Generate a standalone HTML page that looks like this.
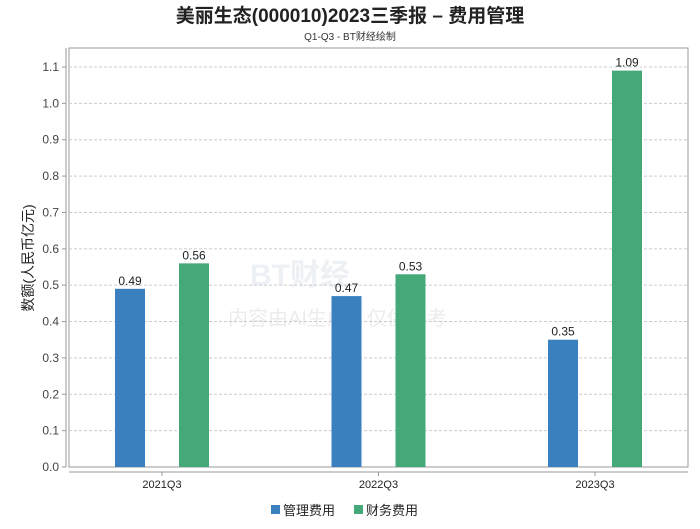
<!DOCTYPE html>
<html><head><meta charset="utf-8"><style>
body{margin:0;background:#fff;width:700px;height:524px;overflow:hidden;font-family:"Liberation Sans","Noto Sans CJK SC",sans-serif}
</style></head><body>
<svg id="chart" width="700" height="524" xmlns="http://www.w3.org/2000/svg">
<text x="350" y="22" text-anchor="middle" font-size="19" font-weight="bold" fill="#222" font-family="Liberation Sans, Noto Sans CJK SC, sans-serif">美丽生态(000010)2023三季报 – 费用管理</text>
<text x="350" y="40" text-anchor="middle" font-size="10" fill="#333" font-family="Liberation Sans, Noto Sans CJK SC, sans-serif">Q1-Q3 - BT财经绘制</text>
<text x="250" y="285" font-size="30" fill="#edf0f5" font-weight="bold">BT财经</text>
<text x="228" y="325" font-size="20" fill="#ececec" font-family="Liberation Sans, Noto Sans CJK SC, sans-serif">内容由AI生成，仅供参考</text>
<rect x="69" y="48" width="619" height="419" fill="none" stroke="#999"/>
<line x1="66" y1="48" x2="66" y2="467" stroke="#999"/>
<line x1="69" y1="472" x2="688" y2="472" stroke="#999"/>
<g id="grid"></g><g id="bars"></g>
<text transform="translate(33,258) rotate(-90)" text-anchor="middle" font-size="14" fill="#222" font-family="Liberation Sans, Noto Sans CJK SC, sans-serif">数额(人民币亿元)</text>
<rect x="271" y="505" width="9" height="9" fill="#3a80be"/>
<text x="283" y="515" font-size="13" fill="#222" font-family="Liberation Sans, Noto Sans CJK SC, sans-serif">管理费用</text>
<rect x="354" y="505" width="9" height="9" fill="#45a878"/>
<text x="366" y="515" font-size="13" fill="#222" font-family="Liberation Sans, Noto Sans CJK SC, sans-serif">财务费用</text>
</svg>
<script>
const categories=["2021Q3","2022Q3","2023Q3"];
const adminValues=[0.49,0.47,0.35];
const financeValues=[0.56,0.53,1.09];
const yTicks=[0,0.1,0.2,0.3,0.4,0.5,0.6,0.7,0.8,0.9,1.0,1.1];
const NS="http://www.w3.org/2000/svg";
const y=v=>467-v*(400/1.1);
const xc=i=>162+i*216.5;
const grid=document.getElementById('grid'),bars=document.getElementById('bars');
function mk(tag,attrs,parent){const e=document.createElementNS(NS,tag);for(const k in attrs)e.setAttribute(k,attrs[k]);parent.appendChild(e);return e;}
yTicks.forEach(t=>{
  const yy=y(t);
  if(t>0){const l=mk('line',{x1:69,x2:688,y1:yy,y2:yy,stroke:'#ccc','stroke-dasharray':'3,2'},grid);
  
  }
  const tk=mk('line',{x1:62,x2:66,y1:yy,y2:yy,stroke:'#999'},grid);
  
  
  const tx=mk('text',{x:59,y:yy+4,'text-anchor':'end','font-size':12,fill:'#444'},grid);
  tx.textContent=t.toFixed(1);
  
  
});
categories.forEach((c,i)=>{
  const cx=xc(i);
  const tk=mk('line',{x1:cx,x2:cx,y1:472,y2:476,stroke:'#999'},grid);
  
  
  const tx=mk('text',{x:cx,y:488,'text-anchor':'middle','font-size':11,fill:'#222'},grid);
  tx.textContent=c;
  
  
  [[adminValues[i],-32,'#3a80be','admin'],[financeValues[i],32,'#45a878','finance']].forEach(([v,off,col,nm])=>{
    const bx=cx+off-15;
    const r=mk('rect',{x:bx,y:y(v),width:30,height:467-y(v),fill:col},bars);
    
    
    const lt=mk('text',{x:cx+off,y:y(v)-4,'text-anchor':'middle','font-size':12,fill:'#222'},bars);
    lt.textContent=v.toFixed(2);
    
    
  });
});
</script>
</body></html>
